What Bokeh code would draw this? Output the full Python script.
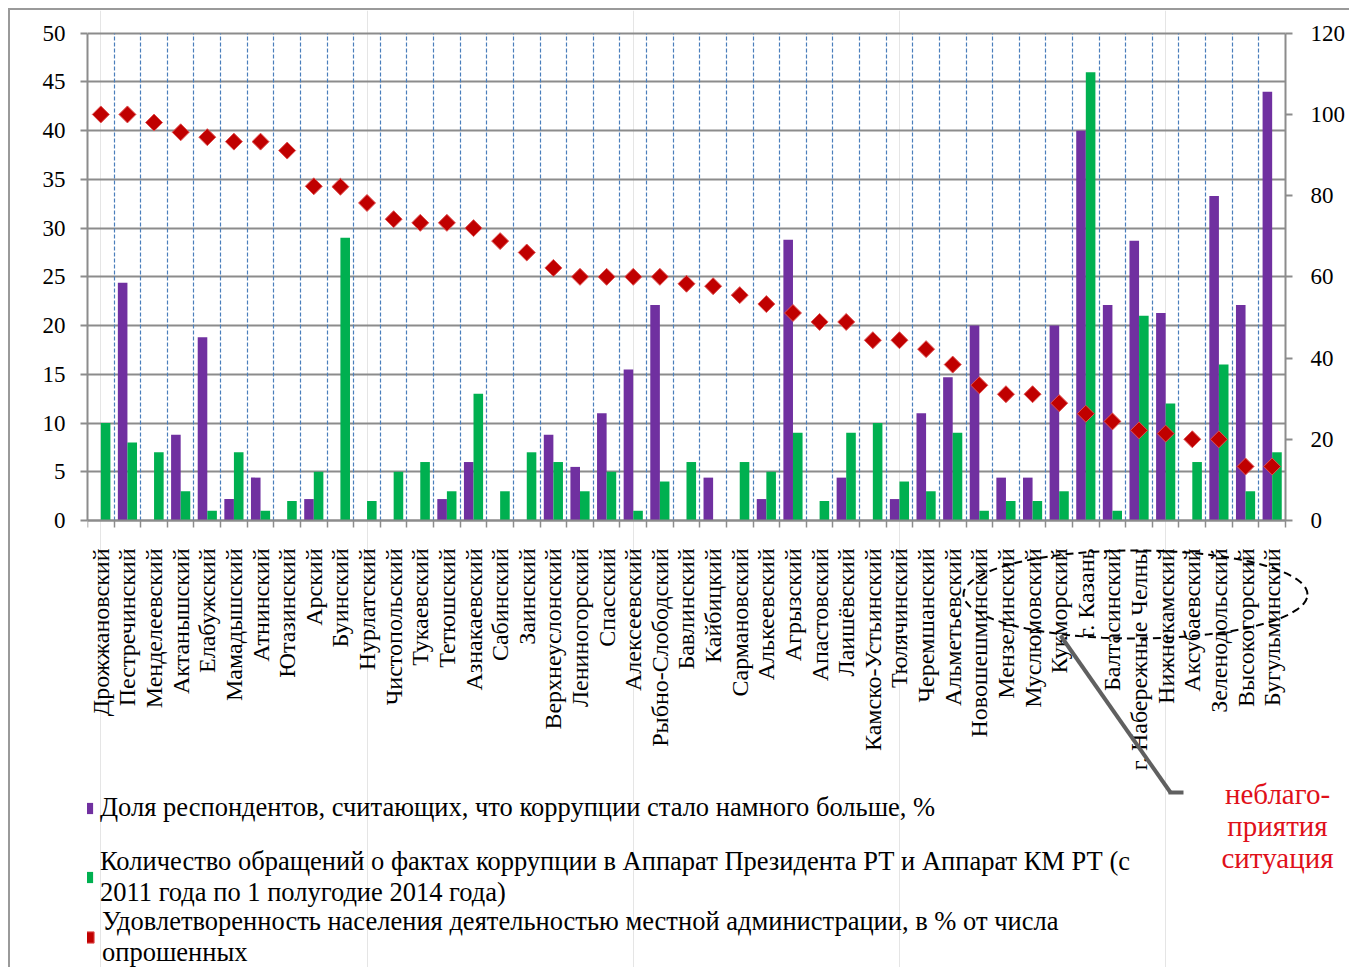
from math import pi
import numpy as np
from bokeh.plotting import figure
from bokeh.models import (Range1d, LinearAxis, FixedTicker, Grid, Legend, LegendItem, Label,
                          Arrow, PolyAnnotation, ColumnDataSource)
from bokeh.transform import dodge
from bokeh.embed import file_html
from bokeh.resources import INLINE

districts = ["Дрожжановский", "Пестречинский", "Менделеевский", "Актанышский", "Елабужский",
             "Мамадышский", "Атнинский", "Ютазинский", "Арский", "Буинский", "Нурлатский",
             "Чистопольский", "Тукаевский", "Тетюшский", "Азнакаевский", "Сабинский", "Заинский",
             "Верхнеуслонский", "Лениногорский", "Спасский", "Алексеевский", "Рыбно-Слободский",
             "Бавлинский", "Кайбицкий", "Сармановский", "Алькеевский", "Агрызский", "Апастовский",
             "Лаишёвский", "Камско-Устьинский", "Тюлячинский", "Черемшанский", "Альметьевский",
             "Новошешминский", "Мензелинский", "Муслюмовский", "Кукморский", "г. Казань",
             "Балтасинский", "г. Набережные Челны", "Нижнекамский", "Аксубаевский",
             "Зеленодольский", "Высокогорский", "Бугульминский"]
share_more = [0, 24.4, 0, 8.8, 18.8, 2.2, 4.4, 0, 2.2, 0, 0, 0, 0, 2.2, 6, 0, 0, 8.8, 5.5, 11,
              15.5, 22.1, 0, 4.4, 0, 2.2, 28.8, 0, 4.4, 0, 2.2, 11, 14.7, 20, 4.4, 4.4, 20, 40,
              22.1, 28.7, 21.3, 0, 33.3, 22.1, 44]
appeals = [10, 8, 7, 3, 1, 7, 1, 2, 5, 29, 2, 5, 6, 3, 13, 3, 7, 6, 3, 5, 1, 4, 6, 0, 6, 5, 9, 2,
           9, 10, 4, 3, 9, 1, 2, 2, 3, 46, 1, 21, 12, 6, 16, 3, 7]
satisfaction = [100, 100, 98, 95.6, 94.4, 93.3, 93.3, 91.1, 82.3, 82.2, 78.2, 74.2, 73.3, 73.3,
                72, 68.8, 66, 62.2, 60, 60, 60, 60, 58.3, 57.7, 55.5, 53.3, 51.1, 48.9, 48.9,
                44.4, 44.4, 42.2, 38.4, 33.3, 31.1, 31.1, 28.9, 26.3, 24.4, 22.2, 21.4, 20, 20,
                13.3, 13.3]
left_ticks = list(range(0, 51, 5))
right_ticks = list(range(0, 121, 20))
legend_labels = ["Доля респондентов, считающих, что коррупции стало намного больше, %",
                 "Количество обращений о фактах коррупции в Аппарат Президента РТ и Аппарат КМ РТ (с\n2011 года по 1 полугодие 2014 года)",
                 "Удовлетворенность населения деятельностью местной администрации, в % от числа\nопрошенных"]
note_lines = ["неблаго-", "приятия", "ситуация"]

FONT = "Liberation Serif"
GRAY = "#8c8c8c"
LEFT_MAX, RIGHT_MAX = 50, 120
# The plot frame fills the whole canvas, so the lower room (axis labels, legend, note) lies
# inside it; the value axes and grids are bounded to their real span.
BELOW = 46.07
ABOVE = 2.33
RIGHT_EXTRA = 2.48
K = RIGHT_MAX / LEFT_MAX
n = len(districts)
pos = list(range(n))
src = ColumnDataSource(dict(x=pos, d=districts, p=share_more, g=appeals, s=satisfaction))

p = figure(width=1341, height=959, x_range=Range1d(-0.5, n - 0.5 + RIGHT_EXTRA),
           y_range=Range1d(-BELOW, LEFT_MAX + ABOVE),
           x_axis_location=None, y_axis_location="left",
           output_backend="svg", toolbar_location=None,
           min_border_left=77, min_border_right=0, min_border_top=0, min_border_bottom=0)
p.extra_y_ranges = {"right": Range1d(-BELOW * K, (LEFT_MAX + ABOVE) * K)}
p.outline_line_color = None
p.styles = {"margin-left": "8px", "margin-top": "8px",
            "border-top": "2px solid #9a9a9a", "border-left": "2px solid #9a9a9a"}

bounds = [i - 0.5 for i in range(n + 1)]
x_span = (-0.5, n - 0.5)

# y axes
ya = p.yaxis[0]
ya.ticker = FixedTicker(ticks=left_ticks)
ya.bounds = (0, LEFT_MAX)
ra = LinearAxis(y_range_name="right", ticker=FixedTicker(ticks=right_ticks),
                bounds=(0, RIGHT_MAX), fixed_location=n - 0.5)
p.add_layout(ra, "right")
for ax in [ya, ra]:
    ax.axis_line_color = GRAY
    ax.axis_line_width = 2
    ax.major_tick_line_color = GRAY
    ax.major_tick_line_width = 2
    ax.major_tick_out = 7
    ax.major_tick_in = 0
    ax.minor_tick_line_color = None
    ax.major_label_text_font = FONT
    ax.major_label_text_font_size = "23px"
    ax.major_label_text_color = "#000000"
    ax.major_label_standoff = 15
ra.major_label_standoff = 18

# x axes at value 0: boundary tick marks, then category labels
ta = LinearAxis(ticker=FixedTicker(ticks=bounds), fixed_location=0, bounds=x_span,
                major_label_overrides={b: "" for b in bounds})
ta.axis_line_color = GRAY
ta.axis_line_width = 2
ta.major_tick_line_color = GRAY
ta.major_tick_line_width = 1.5
ta.major_tick_out = 7
ta.major_tick_in = 0
ta.minor_tick_line_color = None
ta.major_label_text_font_size = "1px"
p.add_layout(ta, "below")

ca = LinearAxis(ticker=FixedTicker(ticks=pos), fixed_location=0,
                major_label_overrides={i: name for i, name in enumerate(districts)})
ca.axis_line_color = None
ca.major_tick_line_color = None
ca.major_tick_out = 0
ca.major_tick_in = 0
ca.minor_tick_line_color = None
ca.major_label_orientation = pi / 2
ca.major_label_text_font = FONT
ca.major_label_text_font_size = "24px"
ca.major_label_text_color = "#000000"
ca.major_label_standoff = 28
p.add_layout(ca, "below")

# grids
p.ygrid.ticker = FixedTicker(ticks=left_ticks)
p.ygrid.cross_bounds = x_span
p.ygrid.grid_line_color = GRAY
p.ygrid.grid_line_width = 2
vg = Grid(dimension=0, ticker=FixedTicker(ticks=bounds[1:-1]), cross_bounds=(0, LEFT_MAX),
          grid_line_color="#4a7ebb", grid_line_dash="4 2", grid_line_width=1.2)
p.add_layout(vg)

# bars and markers
rp = p.vbar(x=dodge("x", -0.18), top="p", width=0.36, source=src,
            fill_color="#7030A0", line_color=None)
rg = p.vbar(x=dodge("x", 0.18), top="g", width=0.36, source=src,
            fill_color="#00B050", line_color=None)
rs = p.scatter(x="x", y="s", source=src, y_range_name="right", marker="square", angle=pi / 4,
               size=12, fill_color="#C00000", line_color="#E05050", line_width=1)

# legends (screen units from the frame's bottom-left)
l1 = Legend(items=[LegendItem(label=legend_labels[0], renderers=[rp])], location=(-7, 146))
l2 = Legend(items=[LegendItem(label=legend_labels[1], renderers=[rg])], location=(-7, 61))
l3 = Legend(items=[LegendItem(label=legend_labels[2], renderers=[rs])], location=(-13, 1))
for lg in (l1, l2, l3):
    lg.label_text_font = FONT
    lg.label_text_font_size = "26.5px"
    lg.label_text_color = "#000000"
    lg.glyph_width = 14
    lg.glyph_height = 14
    lg.label_standoff = 6
    lg.padding = 0
    lg.margin = 0
    lg.spacing = 0
    lg.border_line_color = None
    lg.background_fill_alpha = 0
l3.glyph_width = 28
l3.glyph_height = 28
l3.label_standoff = 0
p.add_layout(l1)
p.add_layout(l2)
p.add_layout(l3)

# annotation: dashed oval, leader line, note
t = np.linspace(0, 2 * pi, 90)
cx, cy, rx, ry = 1048, 375, 172, 44
p.add_layout(PolyAnnotation(xs=list(cx + rx * np.cos(t)), ys=list(cy + ry * np.sin(t)),
                            xs_units="screen", ys_units="screen", fill_color=None,
                            fill_alpha=0, line_color="#000000", line_alpha=1.0,
                            line_dash="8 5", line_width=2))
p.add_layout(Arrow(x_start=973, y_start=334, x_end=1083, y_end=177, start_units="screen",
                   end_units="screen", end=None, line_color="#606060", line_width=4))
p.add_layout(Arrow(x_start=1081, y_start=177, x_end=1096, y_end=177, start_units="screen",
                   end_units="screen", end=None, line_color="#606060", line_width=4))
for i, txt in enumerate(note_lines):
    p.add_layout(Label(x=1190, y=176 - 32 * i, x_units="screen", y_units="screen", text=txt,
                       text_font=FONT, text_font_size="29px", text_color="#E0101A",
                       text_align="center", text_baseline="middle"))

open("out.html", "w").write(file_html(p, INLINE))
